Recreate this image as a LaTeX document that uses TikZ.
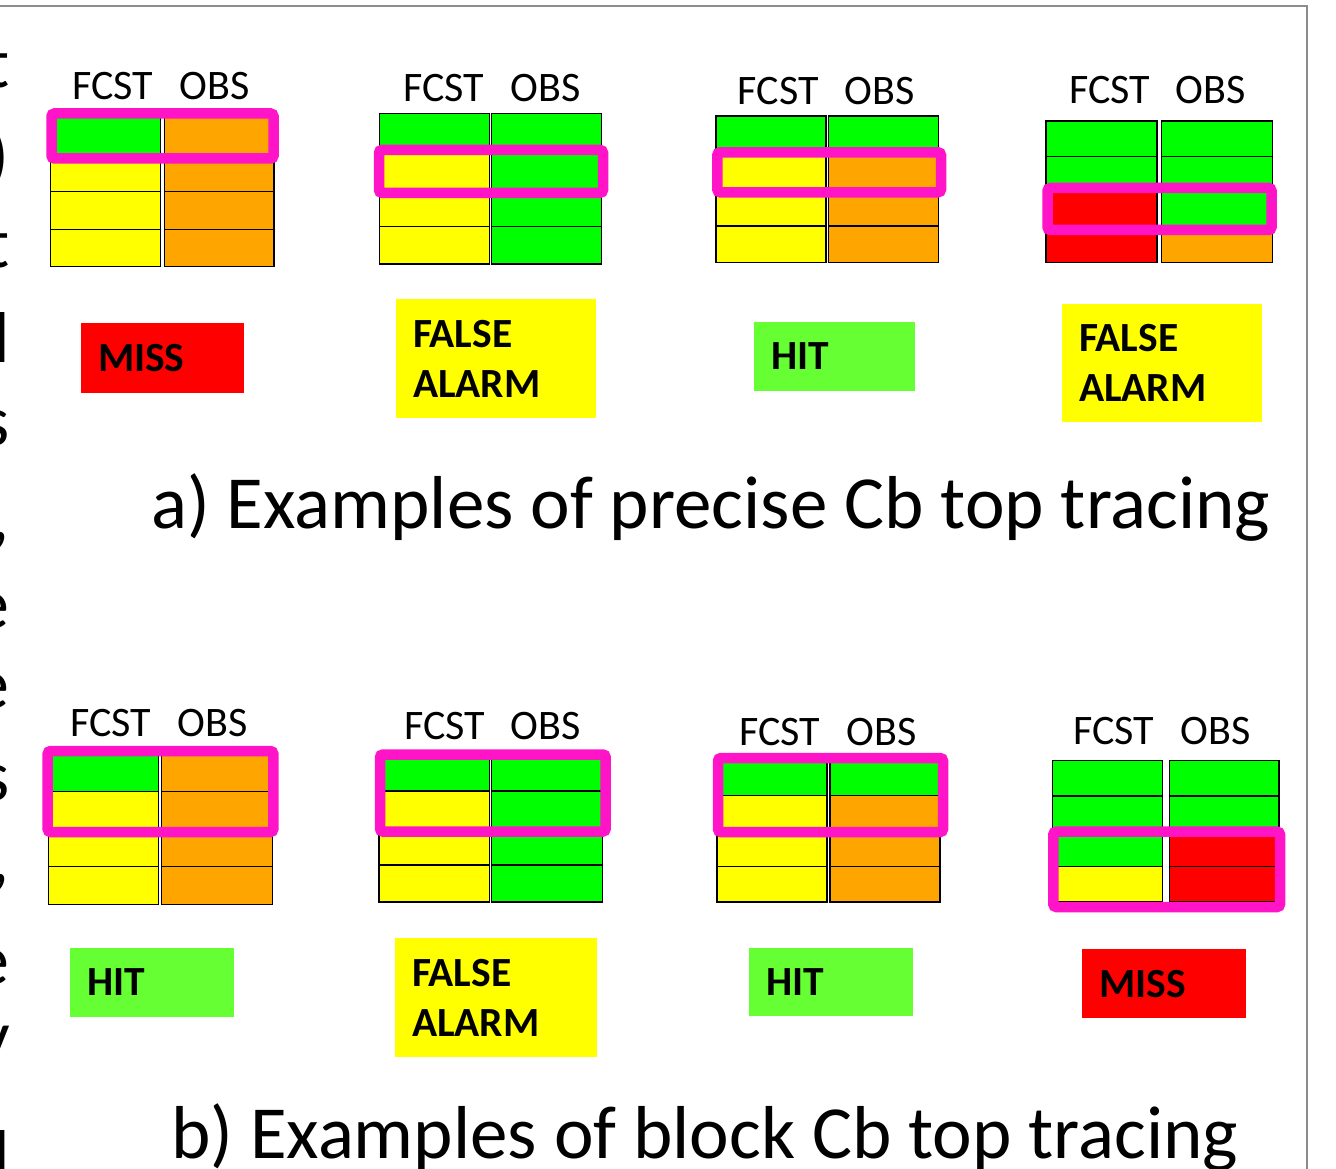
\documentclass[tikz,border=0pt]{standalone}
\usepackage{fontspec}
\setmainfont{Carlito}
\usepackage{tikz}

\definecolor{cgreen}{HTML}{00FF00}
\definecolor{cyellow}{HTML}{FFFF00}
\definecolor{corange}{HTML}{FFA500}
\definecolor{cred}{HTML}{FF0000}
\definecolor{chit}{HTML}{66FF33}
\definecolor{cmag}{HTML}{FF14C8}
\definecolor{cframe}{HTML}{8C8C8C}

% #1 left, #2 top, #3 column width, #4 gap, #5 row height, #6 FCST colours, #7 OBS colours
\newcommand{\cbgrid}[7]{%
    \foreach \cc [count=\i from 0] in {#6}
        \draw[cell, fill=\cc] (#1, #2+#5*\i) rectangle ++(#3, #5);
    \foreach \cc [count=\i from 0] in {#7}
        \draw[cell, fill=\cc] (#1+#3+#4, #2+#5*\i) rectangle ++(#3, #5);
}

\begin{document}
\begin{tikzpicture}[x=1pt, y=-1pt,
        cell/.style = {draw=black, line width=1.3pt},
        hl/.style = {draw=cmag, line width=10.5pt, rounded corners=3pt},
        hdr/.style = {anchor=base, inner sep=0pt, font=\fontsize{42}{48}\selectfont},
        lab/.style = {inner xsep=17pt, inner ysep=0pt, align=left,
            font=\bfseries\fontsize{41.5}{50}\selectfont},
        captxt/.style = {anchor=base west, inner sep=0pt, font=\fontsize{75}{80}\selectfont},
        frag/.style = {anchor=base east, inner sep=0pt, font=\fontsize{72}{76}\selectfont}]
    \useasboundingbox (0,0) rectangle (1336,1169);
    \begin{scope}
    \clip (0,0) rectangle (1336,1169);

    % text of the next column, cut by the page edge
    \node[frag] (f1) at (10,88) {t};
    \node[frag] (f2) at (10,180) {)};
    \node[frag] (f3) at (10,268) {t};
    \node[frag] (f4) at (10,362) {l};
    \node[frag] (f5) at (10,445) {s};
    \node[frag] (f6) at (10,540) {,};
    \node[frag] (f7) at (10,628) {e};
    \node[frag] (f8) at (10,708) {e};
    \node[frag] (f9) at (10,800) {s};
    \node[frag] (f10) at (10,882) {,};
    \node[frag] (f11) at (10,984) {e};
    \node[frag] (f12) at (10,1060) {y};
    \node[frag] (f13) at (10,1180) {l};

    \draw[cframe, line width=2pt] (0,5.7) -- (1307,5.7) -- (1307,1169);

    % a) precise tracing
    \node[hdr] (hA1) at (161,100) {FCST\hspace{0.62em}OBS};
    \cbgrid{50.7}{116.7}{109.8}{3.7}{37.5}{cgreen,cyellow,cyellow,cyellow}{corange,corange,corange,corange}
    \draw[hl] (51.5,113.5) rectangle (273.5,158.5);

    \node[hdr] (hA2) at (492,101.7) {FCST\hspace{0.62em}OBS};
    \cbgrid{379.3}{113.3}{109.85}{2.3}{37.7}{cgreen,cyellow,cyellow,cyellow}{cgreen,cgreen,cgreen,cgreen}
    \draw[hl] (379,150) rectangle (603,192.8);

    \node[hdr] (hA3) at (826.3,105) {FCST\hspace{0.62em}OBS};
    \cbgrid{716}{116}{109.85}{2.6}{36.7}{cgreen,cyellow,cyellow,cyellow}{cgreen,corange,corange,corange}
    \draw[hl] (717.3,152.3) rectangle (941,192.3);

    \node[hdr] (hA4) at (1157.5,103.3) {FCST\hspace{0.62em}OBS};
    \cbgrid{1046}{121}{111.05}{4.6}{35.4}{cgreen,cgreen,cred,cred}{cgreen,cgreen,cgreen,corange}
    \draw[hl] (1047.5,188) rectangle (1271.5,230);

    \node[lab, fill=cred, minimum width=163pt, minimum height=69.4pt, text width=129pt] (missA1) at (162.5,358) {MISS};
    \node[lab, fill=cyellow, minimum width=200pt, minimum height=119pt, text width=166pt] (faA2) at (496,358.5) {FALSE\\ALARM};
    \node[lab, fill=chit, minimum width=161pt, minimum height=69pt, text width=127pt] (hitA3) at (834.5,356.5) {HIT};
    \node[lab, fill=cyellow, minimum width=200pt, minimum height=118pt, text width=166pt] (faA4) at (1162,363) {FALSE\\ALARM};

    \node[captxt] (capA) at (151,528) {a) Examples of precise Cb top tracing};

    % b) block tracing
    \node[hdr] (hB1) at (159,736.7) {FCST\hspace{0.62em}OBS};
    \cbgrid{48.3}{754}{110.5}{3}{37.6}{cgreen,cyellow,cyellow,cyellow}{corange,corange,corange,corange}
    \draw[hl] (47.7,751) rectangle (273.3,832);

    \node[hdr] (hB2) at (492.5,739) {FCST\hspace{0.62em}OBS};
    \cbgrid{379}{754}{110.5}{2.3}{37}{cgreen,cyellow,cyellow,cyellow}{cgreen,cgreen,cgreen,cgreen}
    \draw[hl] (380,754.5) rectangle (605.7,831.5);

    \node[hdr] (hB3) at (828,745) {FCST\hspace{0.62em}OBS};
    \cbgrid{717}{760}{110}{3}{35.5}{cgreen,cyellow,cyellow,cyellow}{cgreen,corange,corange,corange}
    \draw[hl] (718,758) rectangle (943,832);

    \node[hdr] (hB4) at (1162,744.3) {FCST\hspace{0.62em}OBS};
    \cbgrid{1052.7}{760.7}{109.85}{6.6}{35.25}{cgreen,cgreen,cgreen,cyellow}{cgreen,cgreen,cred,cred}
    \draw[hl] (1053.3,831.7) rectangle (1280,907);

    \node[lab, fill=chit, minimum width=164pt, minimum height=68.4pt, text width=130pt] (hitB1) at (152,982.5) {HIT};
    \node[lab, fill=cyellow, minimum width=202pt, minimum height=119pt, text width=168pt] (faB2) at (496,997.5) {FALSE\\ALARM};
    \node[lab, fill=chit, minimum width=164pt, minimum height=68pt, text width=130pt] (hitB3) at (831,982) {HIT};
    \node[lab, fill=cred, minimum width=163.7pt, minimum height=69pt, text width=129.7pt] (missB4) at (1164,983.8) {MISS};

    \node[captxt] (capB) at (171,1158) {b) Examples of block Cb top tracing};
    \end{scope}
\end{tikzpicture}
\end{document}
